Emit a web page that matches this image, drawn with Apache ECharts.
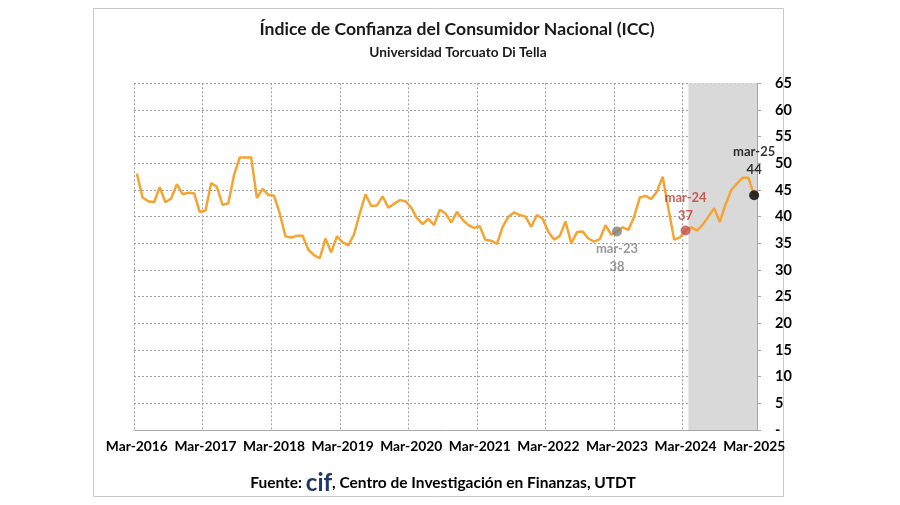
<!DOCTYPE html>
<html><head><meta charset="utf-8">
<script src="https://cdn.jsdelivr.net/npm/echarts@6/dist/echarts.min.js"></script>
<style>html,body{margin:0;padding:0;background:#fff}#c{width:900px;height:505px}</style>
</head><body><div id="c"></div>
<script>
// ---- data ----
const monthNames = ['Jan','Feb','Mar','Apr','May','Jun','Jul','Aug','Sep','Oct','Nov','Dec'];
const categories = [];
for (let y = 2016, m = 2; y < 2025 || (y === 2025 && m <= 2);) {
  categories.push(monthNames[m] + '-' + y);
  m++; if (m === 12) { m = 0; y++; }
}
const iccValues = [
  48.1, 43.6, 42.9, 42.7, 45.5, 42.7, 43.4, 46.1, 44.2, 44.5, 44.4, 40.9,
  41.1, 46.3, 45.6, 42.2, 42.5, 47.8, 51.1, 51.1, 51.1, 43.5, 45.2, 44.1,
  43.9, 40.6, 36.3, 36.1, 36.4, 36.4, 33.8, 32.8, 32.2, 35.9, 33.3, 36.3,
  35.2, 34.6, 36.7, 40.6, 44.2, 42.0, 42.1, 43.8, 41.7, 42.4, 43.1, 42.9,
  41.7, 39.7, 38.6, 39.6, 38.4, 41.3, 40.6, 38.9, 40.9, 39.4, 38.4, 37.9,
  38.2, 35.6, 35.5, 34.9, 38.1, 40.0, 40.8, 40.3, 40.0, 38.1, 40.3, 39.6,
  37.1, 35.7, 36.4, 39.1, 35.0, 37.1, 37.2, 35.9, 35.3, 35.8, 38.4, 36.6,
  37.2, 38.0, 37.5, 40.0, 43.6, 43.9, 43.3, 44.7, 47.5, 41.5, 35.7, 36.1,
  37.4, 38.0, 37.4, 38.5, 40.0, 41.6, 39.0, 42.3, 45.0, 46.2, 47.3, 47.3,
  44.0
];
const tickLabels = ['Mar-2016','Mar-2017','Mar-2018','Mar-2019','Mar-2020','Mar-2021','Mar-2022','Mar-2023','Mar-2024','Mar-2025'];
const shadedMonths = ['Apr-2024','May-2024','Jun-2024','Jul-2024','Aug-2024','Sep-2024','Oct-2024','Nov-2024','Dec-2024','Jan-2025','Feb-2025','Mar-2025'];
const shadeTop = 65;
const highlightMonths = ['Mar-2023','Mar-2024','Mar-2025'];
const highlightNames = ['mar-23','mar-24','mar-25'];
const highlightValueLabels = ['38','37','44'];

// ---- chart ----
const FONT = 'Lato';
const chart = echarts.init(document.getElementById('c'), null, {renderer: 'canvas'});
const isTick = (i, v) => tickLabels.indexOf(v) >= 0;
const shadeRange = [[categories.indexOf(shadedMonths[0]), categories.indexOf(shadedMonths[shadedMonths.length - 1]), shadeTop]];
const hlColors = ['#808080', '#C0504D', '#000000'];
const hlTextColors = ['#808080', '#C0392B', '#000000'];
const hlPos = ['bottom', 'top', 'top'];
const hlDist = [3, 1, 11];
const hlData = highlightMonths.map((mo, k) => ({
  value: [mo, iccValues[categories.indexOf(mo)]],
  itemStyle: {color: hlColors[k]},
  label: {
    show: true, position: hlPos[k], distance: hlDist[k],
    formatter: highlightNames[k] + '\n' + highlightValueLabels[k],
    color: hlTextColors[k], fontFamily: FONT, fontWeight: 'bold', fontSize: 13, lineHeight: 18
  }
}));

chart.setOption({
  animation: false,
  backgroundColor: '#fff',
  textStyle: {fontFamily: FONT},
  title: [
    {text: 'Índice de Confianza del Consumidor Nacional (ICC)', left: 452, top: 15, textAlign: 'center',
     textStyle: {fontFamily: FONT, fontSize: 17.6, fontWeight: 'bold', color: '#1a1a1a'}},
    {text: 'Universidad Torcuato Di Tella', left: 453, top: 41, textAlign: 'center',
     textStyle: {fontFamily: FONT, fontSize: 13.7, fontWeight: 'bold', color: '#1a1a1a'}},
    {text: '{a|Fuente: }{b|cif}{a|, Centro de Investigación en Finanzas, UTDT}', left: 438, top: 466, textAlign: 'center',
     textStyle: {rich: {
       a: {fontFamily: FONT, fontSize: 15.5, fontWeight: 'bold', color: '#000'},
       b: {fontFamily: FONT, fontSize: 24, fontWeight: 'bold', color: '#1F3864'}
     }}}
  ],
  graphic: [{type: 'rect', shape: {x: 93.5, y: 8.5, width: 690, height: 488}, style: {fill: null, stroke: '#c8c8c8', lineWidth: 1}, silent: true, z: -1}],
  grid: {left: 134, right: 143, top: 83.3, bottom: 75},
  xAxis: {
    type: 'category', data: categories, boundaryGap: true,
    axisLine: {lineStyle: {color: '#a6a6a6'}},
    axisTick: {interval: isTick, length: 5, lineStyle: {color: '#a6a6a6'}},
    axisLabel: {interval: isTick, color: '#000', fontFamily: FONT, fontWeight: 'bold', fontSize: 13.8, margin: 10},
    splitLine: {show: true, interval: isTick, lineStyle: {color: '#a0a0a0', type: [2, 2], width: 1}}
  },
  yAxis: {
    type: 'value', position: 'right', min: 0, max: 65, interval: 5,
    axisLine: {show: true, lineStyle: {color: '#a6a6a6'}},
    axisTick: {show: true, length: 4, lineStyle: {color: '#a6a6a6'}},
    axisLabel: {align: 'left', margin: 18, color: '#000', fontFamily: FONT, fontWeight: 'bold', fontSize: 14.5,
      formatter: v => v === 0 ? '-' : String(v)},
    splitLine: {show: true, lineStyle: {color: '#a0a0a0', type: [2, 2], width: 1}}
  },
  series: [
    {type: 'custom', data: shadeRange, silent: true, z: 1, encode: {x: [0, 1], y: 2},
     renderItem: function (params, api) {
       const start = api.coord([api.value(0), api.value(2)]);
       const end = api.coord([api.value(1), 0]);
       const bw = api.size([1, 0])[0];
       return {type: 'rect', shape: {x: start[0] - bw / 2, y: start[1], width: end[0] - start[0] + bw, height: end[1] - start[1]},
               style: {fill: '#d9d9d9'}};
     }},
    {type: 'line', data: iccValues, symbol: 'none', lineStyle: {color: '#F5A431', width: 2.5}, itemStyle: {color: '#F5A431'}, z: 3},
    {type: 'scatter', data: hlData, symbolSize: 10, z: 4}
  ]
});
</script></body></html>
